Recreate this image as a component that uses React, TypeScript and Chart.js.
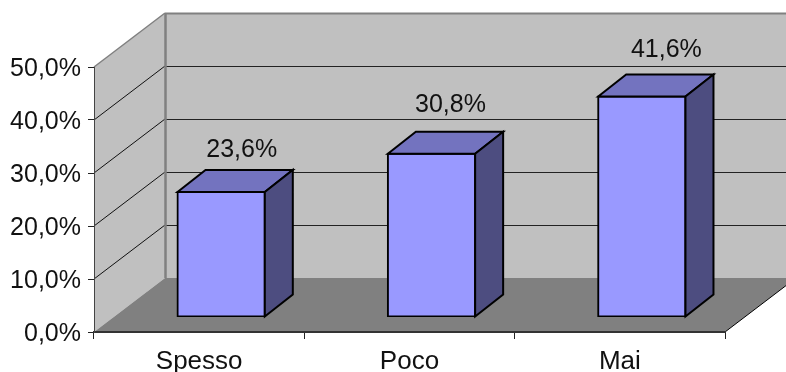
import React, { useEffect, useRef } from "react";
import { Chart, registerables } from "chart.js";

Chart.register(...registerables);

const categories = ["Spesso", "Poco", "Mai"];
const shares = [23.6, 30.8, 41.6];
const shareLabels = ["23,6%", "30,8%", "41,6%"];

// Fine placement of the value labels relative to each column's category slot.
const labelShiftX = [42.5, 41, 46.5];
const labelShiftY = [50, 57, 55];

const FONT = "Liberation Sans, Arial, sans-serif";
const FONT_SIZE = 25;
const CATEGORY_FONT_SIZE = 26;

// Depth of the chart box, and of each column within it.
const BOX_DX = 71;
const BOX_DY = 54;
const COL_SHIFT_X = 22;
const COL_SHIFT_Y = 15;
const COL_DX = 28;
const COL_DY = 22;

function polygon(ctx: CanvasRenderingContext2D, pts: number[][], fill?: string, stroke?: string, lw = 1) {
  ctx.beginPath();
  pts.forEach(([x, y], i) => (i ? ctx.lineTo(x, y) : ctx.moveTo(x, y)));
  ctx.closePath();
  if (fill) {
    ctx.fillStyle = fill;
    ctx.fill();
  }
  if (stroke) {
    ctx.strokeStyle = stroke;
    ctx.lineWidth = lw;
    ctx.lineJoin = "miter";
    ctx.stroke();
  }
}

function segment(ctx: CanvasRenderingContext2D, x1: number, y1: number, x2: number, y2: number, color: string, lw: number) {
  ctx.beginPath();
  ctx.moveTo(x1, y1);
  ctx.lineTo(x2, y2);
  ctx.strokeStyle = color;
  ctx.lineWidth = lw;
  ctx.stroke();
}

// Side walls, back wall, floor and the gridlines that run across them.
const boxPlugin = {
  id: "box",
  beforeDraw(chart: any) {
    const { ctx, chartArea, scales } = chart;
    const { left, right, top, bottom } = chartArea;
    const y = scales.y;
    const wall = "#c0c0c0";
    const edge = "#808080";
    ctx.save();
    polygon(ctx, [[left, top], [left + BOX_DX, top - BOX_DY], [right + BOX_DX, top - BOX_DY], [right + BOX_DX, bottom - BOX_DY], [left + BOX_DX, bottom - BOX_DY], [left, bottom]], wall);
    polygon(ctx, [[left, bottom], [left + BOX_DX, bottom - BOX_DY], [right + BOX_DX, bottom - BOX_DY], [right, bottom]], "#808080");
    y.ticks.forEach((t: any) => {
      const py = Math.round(y.getPixelForValue(t.value));
      if (t.value > 0 && t.value < 50) {
        segment(ctx, left, py, left + BOX_DX, py - BOX_DY, "#111", 1);
        segment(ctx, left + BOX_DX, py - BOX_DY + 0.5, right + BOX_DX, py - BOX_DY + 0.5, "#222", 1);
      }
      if (t.value === 50) {
        segment(ctx, left, py, left + BOX_DX, py - BOX_DY, edge, 1.5);
        segment(ctx, left + BOX_DX, py - BOX_DY + 0.5, right + BOX_DX, py - BOX_DY + 0.5, edge, 2);
      }
    });
    segment(ctx, left + BOX_DX + 0.5, top - BOX_DY, left + BOX_DX + 0.5, bottom - BOX_DY, edge, 2.5);
    segment(ctx, right, bottom, right + BOX_DX, bottom - BOX_DY, "#000", 1);
    ctx.restore();
  },
};

// Columns sit inside the box: shift them in, then add their top and side faces.
const columnPlugin = {
  id: "columns",
  beforeDatasetDraw(chart: any) {
    chart.ctx.save();
    chart.ctx.translate(COL_SHIFT_X, -COL_SHIFT_Y);
  },
  afterDatasetDraw(chart: any, args: any) {
    const { ctx } = chart;
    args.meta.data.forEach((bar: any) => {
      const half = bar.width / 2;
      const l = bar.x - half;
      const r = bar.x + half;
      const t = bar.y;
      const b = bar.base;
      polygon(ctx, [[l, t], [l + COL_DX, t - COL_DY], [r + COL_DX, t - COL_DY], [r, t]], "#7373bf", "#000", 2);
      polygon(ctx, [[r, t], [r + COL_DX, t - COL_DY], [r + COL_DX, b - COL_DY], [r, b]], "#4d4d80", "#000", 2);
    });
    ctx.restore();
  },
  afterDatasetsDraw(chart: any) {
    const { ctx, scales } = chart;
    ctx.save();
    ctx.font = `${FONT_SIZE}px ${FONT}`;
    ctx.fillStyle = "#111";
    ctx.textAlign = "center";
    ctx.textBaseline = "alphabetic";
    shares.forEach((v, i) => {
      ctx.fillText(
        shareLabels[i],
        scales.x.getPixelForValue(i) + labelShiftX[i],
        scales.y.getPixelForValue(v) - labelShiftY[i]
      );
    });
    ctx.restore();
  },
};

export default function App() {
  const ref = useRef<HTMLCanvasElement>(null);

  useEffect(() => {
    const chart = new Chart(ref.current!, {
      type: "bar",
      data: {
        labels: categories,
        datasets: [
          {
            data: shares,
            backgroundColor: "#9999ff",
            borderColor: "#000",
            borderWidth: 2,
            borderSkipped: false,
            inflateAmount: 1,
            categoryPercentage: 1,
            barPercentage: 0.415,
          },
        ],
      },
      options: {
        responsive: false,
        animation: false,
        layout: { padding: { top: 67, right: 61, left: 0, bottom: 0 } },
        plugins: { legend: { display: false }, tooltip: { enabled: false } },
        scales: {
          x: {
            afterFit: (s: any) => {
              s.height = 40;
            },
            grid: { drawOnChartArea: false, tickLength: 7, tickColor: "#222" },
            border: { color: "#333", width: 2 },
            ticks: { color: "#111", font: { family: FONT, size: CATEGORY_FONT_SIZE }, padding: 7, maxRotation: 0 },
          },
          y: {
            min: 0,
            max: 50,
            afterFit: (s: any) => {
              s.width = 94;
            },
            grid: { drawOnChartArea: false, tickLength: 6, tickColor: "#222" },
            border: { color: "#444", width: 1 },
            ticks: {
              stepSize: 10,
              color: "#111",
              font: { family: FONT, size: FONT_SIZE },
              padding: 7,
              labelOffset: 2,
              callback: (v: any) => Number(v).toFixed(1).replace(".", ",") + "%",
            },
          },
        },
      },
      plugins: [boxPlugin, columnPlugin],
    } as any);
    return () => chart.destroy();
  }, []);

  return (
    <canvas
      ref={ref}
      width={786}
      height={372}
      style={{ position: "absolute", left: 0, top: 0, display: "block", background: "#fff" }}
    />
  );
}
